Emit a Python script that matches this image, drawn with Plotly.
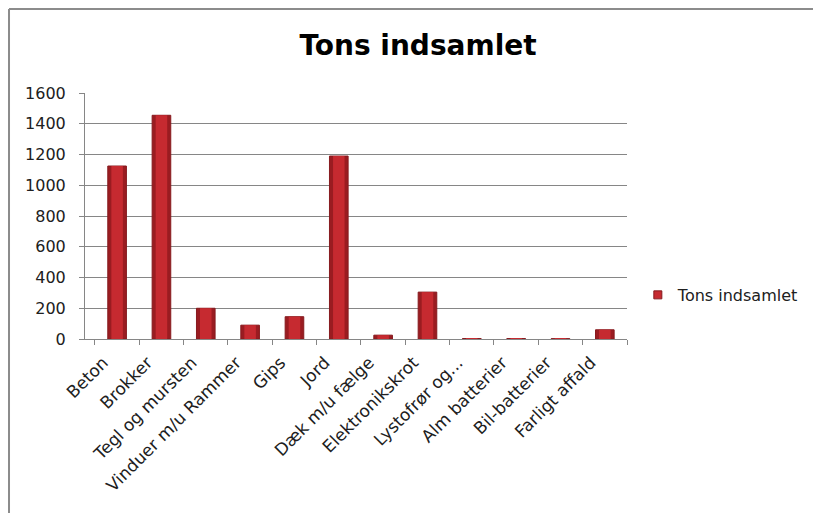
import plotly.graph_objects as go

categories = ["Beton", "Brokker", "Tegl og mursten", "Vinduer m/u Rammer", "Gips", "Jord",
              "Dæk m/u fælge", "Elektronikskrot", "Lystofrør og...", "Alm batterier",
              "Bil-batterier", "Farligt affald"]
values = [1125, 1455, 200, 90, 145, 1190, 25, 305, 3, 3, 2, 60]
series_name = "Tons indsamlet"
y_ticks = [0, 200, 400, 600, 800, 1000, 1200, 1400, 1600]

font_family = "'DejaVu Sans', 'Open Sans', sans-serif"
bar_color = "#C62A30"
bar_edge = "#9A1C21"

fig = go.Figure()
# bar body (darker rim)
fig.add_trace(go.Bar(
    x=categories, y=values, name=series_name, showlegend=False,
    marker=dict(color=bar_edge, line=dict(color="#861A1E", width=1)),
    width=0.42,
))
# lighter centre of each bar for a rounded look
fig.add_trace(go.Bar(
    x=categories, y=values, name=series_name, showlegend=False, hoverinfo="skip",
    marker=dict(color=bar_color, line=dict(width=0)),
    width=0.26,
))
# legend entry with a small square marker
fig.add_trace(go.Scatter(
    x=[categories[0]], y=[None], mode="markers", name=series_name,
    marker=dict(symbol="square", size=8, color=bar_color,
                line=dict(color="#861A1E", width=1)),
))

fig.update_layout(
    width=821, height=513,
    margin=dict(l=77, r=202, t=85, b=182),
    paper_bgcolor="white", plot_bgcolor="white",
    font=dict(family=font_family, size=14, color="#202020"),
    title=dict(text="<b>Tons indsamlet</b>", x=0.4994, xanchor="center",
               y=0.928, yanchor="middle", yref="container",
               font=dict(size=28, color="#000000", family=font_family)),
    showlegend=True,
    legend=dict(x=1.02, y=0.179, xanchor="left", yanchor="middle",
                font=dict(size=16, color="#202020"), itemwidth=30,
                bgcolor="rgba(0,0,0,0)"),
    barmode="overlay",
)
fig.update_xaxes(
    type="category", tickangle=-45, showline=True, linecolor="#868686", linewidth=1,
    ticks="outside", tickson="boundaries", ticklen=5, tickcolor="#868686",
    ticklabelshift=-14, ticklabelstandoff=6,
    showgrid=False, tickfont=dict(size=17, color="#202020"),
)
fig.update_yaxes(
    range=[0, 1600], tickvals=y_ticks, showline=True, linecolor="#868686", linewidth=1,
    ticks="outside", ticklen=5, tickcolor="#868686", ticklabelstandoff=10,
    showgrid=True, gridcolor="#868686", gridwidth=1, zeroline=False,
    tickfont=dict(size=16, color="#202020"),
)
# chart frame (top and left edges)
fig.add_shape(type="line", xref="paper", yref="paper", x0=-0.1402, x1=1.45,
              y0=1.3415, y1=1.3415, line=dict(color="#8C8C8C", width=2))
fig.add_shape(type="line", xref="paper", yref="paper", x0=-0.1402, x1=-0.1402,
              y0=1.3415, y1=-0.75, line=dict(color="#8C8C8C", width=2))

fig.write_html("out.html")
